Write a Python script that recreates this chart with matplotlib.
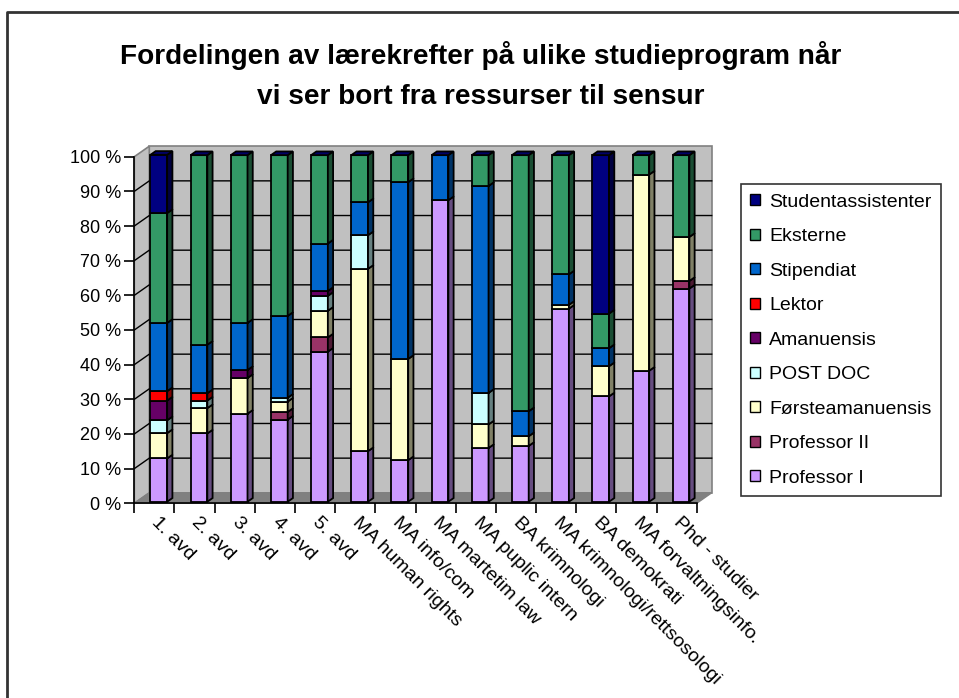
import numpy as np
import matplotlib
matplotlib.use("Agg")
import matplotlib.pyplot as plt
from matplotlib.patches import Polygon, Patch
from matplotlib.lines import Line2D
from matplotlib import colors as mcolors

plt.rcParams['font.family'] = ['Liberation Sans', 'DejaVu Sans']

# study programmes
programs = ["1. avd", "2. avd", "3. avd", "4. avd", "5. avd",
            "MA human rights", "MA info/com", "MA martetim law",
            "MA puplic intern", "BA krimnologi",
            "MA krimnologi/rettsosologi", "BA demokrati",
            "MA forvaltningsinfo.", "Phd - studier"]

# share (%) of each staff group per programme
professor_1 = [12.5, 19.7, 25.4, 23.7, 43.3, 14.6, 12.0, 87.0, 15.5, 16.1, 55.7, 30.4, 37.8, 61.5]
professor_2 = [0, 0, 0, 2.2, 4.1, 0, 0, 0, 0, 0, 0, 0, 0, 2.2]
forsteaman = [7.3, 7.3, 10.3, 3.0, 7.7, 52.6, 29.2, 0, 6.8, 2.8, 1.1, 8.7, 56.6, 12.7]
post_doc = [3.7, 2.2, 0, 1.1, 4.3, 9.7, 0, 0, 9.1, 0, 0, 0, 0, 0]
amanuensis = [5.7, 0, 2.3, 0, 1.4, 0, 0, 0, 0, 0, 0, 0, 0, 0]
lektor = [2.7, 2.1, 0, 0, 0, 0, 0, 0, 0, 0, 0, 0, 0, 0]
stipendiat = [19.7, 14.0, 13.6, 23.6, 13.7, 9.5, 51.0, 13.0, 59.7, 7.2, 8.8, 5.2, 0, 0]
eksterne = [31.7, 54.7, 48.4, 46.4, 25.5, 13.6, 7.8, 0, 8.9, 73.9, 34.4, 10.0, 5.6, 23.6]
studentass = [16.8, 0, 0, 0, 0, 0, 0, 0, 0, 0, 0, 45.7, 0, 0]

series_names = ["Professor I", "Professor II", "Førsteamanuensis", "POST DOC",
                "Amanuensis", "Lektor", "Stipendiat", "Eksterne", "Studentassistenter"]
series_vals = [professor_1, professor_2, forsteaman, post_doc, amanuensis,
               lektor, stipendiat, eksterne, studentass]
series_cols = ["#CC99FF", "#993366", "#FFFFCC", "#CCFFFF", "#660066",
               "#FF0000", "#0066CC", "#339966", "#000080"]

yticks = list(range(0, 101, 10))
ytick_labels = [f"{v} %" for v in yticks]

title = "Fordelingen av lærekrefter på ulike studieprogram når\nvi ser bort fra ressurser til sensur"

W, H = 959, 698
fig = plt.figure(figsize=(W / 100, H / 100), dpi=100)

# front plot area in pixels
x0, x1, y0, y1 = 134.3, 696.7, 503.3, 156.7
ax = fig.add_axes([x0 / W, 1 - y0 / H, (x1 - x0) / W, (y0 - y1) / H])
n = len(programs)
xmin, xmax = -0.5, n - 0.5
ax.set_xlim(xmin, xmax)
ax.set_ylim(0, 100)
ax.patch.set_visible(False)

# 3D depth offsets in data units
dx = 15 / ((x1 - x0) / n)
dy = 10.5 / ((y0 - y1) / 100)


def shade(c, f=0.5):
    r, g, b = mcolors.to_rgb(c)
    return (r * f, g * f, b * f)


# walls and floor
ax.add_patch(Polygon([(xmin + dx, dy), (xmax + dx, dy), (xmax + dx, 100 + dy), (xmin + dx, 100 + dy)],
                     closed=True, facecolor="#C0C0C0", edgecolor="#808080", lw=1.2, zorder=0, clip_on=False))
ax.add_patch(Polygon([(xmin, 0), (xmin + dx, dy), (xmin + dx, 100 + dy), (xmin, 100)],
                     closed=True, facecolor="#C0C0C0", edgecolor="#808080", lw=1.2, zorder=0, clip_on=False))
for v in yticks[1:-1]:
    ax.add_line(Line2D([xmin, xmin + dx, xmax + dx], [v, v + dy, v + dy],
                       color="black", lw=1.0, zorder=0.5, clip_on=False))
ax.add_patch(Polygon([(xmin, 0), (xmax, 0), (xmax + dx, dy), (xmin + dx, dy)],
                     closed=True, facecolor="#808080", edgecolor="#808080", lw=1, zorder=0.6, clip_on=False))

# bars
bw = 0.416
bx = 0.11
by = 0.45
ddx = 0.35 * dx
ddy = 0.35 * dy
x = np.arange(n)
bottoms = np.zeros(n)
for name, vals, col in zip(series_names, series_vals, series_cols):
    vals = np.array(vals, dtype=float)
    mask = vals > 0
    ax.bar(x[mask] + bx, vals[mask], bottom=bottoms[mask] + by, width=bw,
           color=col, edgecolor="black", lw=1.3, zorder=2, clip_on=False)
    for i in np.where(mask)[0]:
        xr = x[i] + bx + bw / 2
        b = bottoms[i] + by
        t = b + vals[i]
        ax.add_patch(Polygon([(xr, b), (xr + ddx, b + ddy), (xr + ddx, t + ddy), (xr, t)],
                             closed=True, facecolor=shade(col), edgecolor="black", lw=1.3,
                             zorder=2, clip_on=False))
    bottoms = bottoms + vals

for i in range(n):
    xl = x[i] + bx - bw / 2
    xr = x[i] + bx + bw / 2
    t = bottoms[i] + by
    ax.add_patch(Polygon([(xl, t), (xl + ddx, t + ddy), (xr + ddx, t + ddy), (xr, t)],
                         closed=True, facecolor="#000066", edgecolor="black", lw=1.3,
                         zorder=2.1, clip_on=False))

# axes
for s in ["top", "right"]:
    ax.spines[s].set_visible(False)
ax.spines["left"].set_linewidth(1.2)
ax.spines["bottom"].set_linewidth(1.2)
ax.set_yticks(yticks, ytick_labels, fontsize=13)
ax.tick_params(axis="y", length=7.5, width=1.2, pad=2)
ax.set_xticks(np.arange(n + 1) - 0.5, minor=True)
ax.tick_params(axis="x", which="minor", length=7.5, width=1.2)
ax.set_xticks(x, programs, fontsize=14, rotation=-45, ha="left", va="center", rotation_mode="anchor")
ax.tick_params(axis="x", which="major", length=0, pad=12)

fig.text(480.5 / W, 1 - 75 / H, title, ha="center", va="center", fontsize=20.2,
         fontweight="bold", linespacing=1.7)

handles = [Patch(facecolor=c, edgecolor="black", lw=1) for c in series_cols[::-1]]
leg = fig.legend(handles, series_names[::-1], loc="upper left",
                 bbox_to_anchor=(740.7 / W, 1 - 184 / H), fontsize=14, frameon=True,
                 fancybox=False, edgecolor="black", handlelength=0.5, handleheight=0.5,
                 handletextpad=0.45, labelspacing=0.9, borderpad=0.5, borderaxespad=0)
leg.get_frame().set_linewidth(1.2)

# outer chart frame
fig.add_artist(Line2D([7 / W, 7 / W, 1], [0, 1 - 12 / H, 1 - 12 / H],
                      transform=fig.transFigure, color="#333333", lw=2))

fig.savefig("out.png", dpi=100)
